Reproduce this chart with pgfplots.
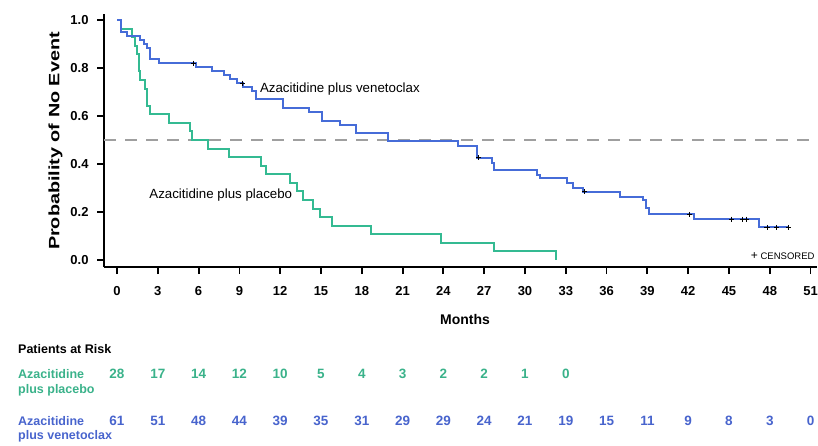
\documentclass[border=0pt]{standalone}
\usepackage{fontspec}
\setmainfont{Liberation Sans}
\usepackage{graphicx}
\usepackage{pgfplots}
\pgfplotsset{compat=1.18}
\definecolor{ven}{RGB}{70,108,216}
\definecolor{pla}{RGB}{52,186,146}
\definecolor{ventext}{RGB}{72,100,205}
\definecolor{platext}{RGB}{58,178,138}

\pgfplotstableread{
m p
0 1.000
0.3 0.951
0.7 0.934
1.7 0.918
1.95 0.902
2.2 0.885
2.4 0.836
3.1 0.820
5.8 0.803
7.0 0.787
7.9 0.770
8.3 0.754
8.8 0.737
9.3 0.720
9.9 0.703
10.2 0.670
12.2 0.635
14.1 0.615
15.1 0.580
16.4 0.562
17.6 0.530
19.9 0.497
25.1 0.476
26.5 0.426
27.6 0.403
27.75 0.375
30.9 0.355
31.1 0.340
33.1 0.320
33.5 0.302
34.3 0.285
37.0 0.264
38.7 0.248
38.9 0.215
39.1 0.190
42.4 0.170
47.2 0.136
49.4 0.136
}\ven

\pgfplotstableread{
m p
0 1.000
0.3 0.964
1.1 0.929
1.3 0.893
1.45 0.857
1.6 0.821
1.65 0.786
1.7 0.750
2.06 0.714
2.2 0.643
2.4 0.607
3.8 0.571
5.4 0.536
5.5 0.500
6.7 0.464
8.2 0.429
10.6 0.393
10.95 0.357
12.7 0.321
13.2 0.286
13.7 0.250
14.4 0.214
14.9 0.179
15.8 0.143
18.7 0.107
23.8 0.071
27.7 0.036
32.3 0.000
}\pla

\begin{document}
\begin{tikzpicture}[x=1pt,y=1pt]
\path[use as bounding box] (0,0) rectangle (818,-445);
\begin{axis}[
  at={(104.08pt,-267.2pt)}, anchor=south west,
  scale only axis, width=713.3pt, height=253.2pt,
  xmin=-0.95, xmax=51.5, ymin=-0.03, ymax=1.025,
  axis lines*=left,
  axis line style={line width=2pt, black},
  tick style={line width=1.8pt, black},
  major tick length=7pt, tick align=outside,
  xtick={0,3,6,9,12,15,18,21,24,27,30,33,36,39,42,45,48,51},
  xticklabels={0,3,6,9,12,15,18,21,24,27,30,33,36,39,42,45,48,51},
  ytick={0,0.2,0.4,0.6,0.8,1.0},
  yticklabels={0.0,0.2,0.4,0.6,0.8,1.0},
  ticklabel style={font=\bfseries\fontsize{13}{13}\selectfont},
  xticklabel style={yshift=-9pt},
  yticklabel style={xshift=-5pt},
  clip=false,
]
\addplot[gray!75, dash pattern=on 12pt off 9pt, line width=1.1pt] coordinates {(-0.95,0.5) (51.5,0.5)};
\addplot[const plot, pla, line width=2pt] table[x=m,y=p] {\pla};
\addplot[const plot, ven, line width=2pt] table[x=m,y=p] {\ven};
\addplot[only marks, mark=+, mark size=2.6pt, black, line width=0.9pt] coordinates {
(5.6,0.820) (9.2,0.737) (26.6,0.426) (34.4,0.285) (42.1,0.190)
(45.2,0.170) (46.0,0.170) (46.3,0.170) (47.8,0.136) (48.5,0.136) (49.4,0.136)};
\node[anchor=west, inner sep=0, font=\fontsize{13.3}{13.3}\selectfont] at (axis cs:10.5,0.7125) {Azacitidine plus venetoclax};
\node[anchor=west, inner sep=0, font=\fontsize{13.3}{13.3}\selectfont] at (axis cs:2.37,0.271) {Azacitidine plus placebo};
\node[anchor=east, inner sep=0, font=\fontsize{9.5}{9.5}\selectfont] at (axis cs:51.3,0.017) {{\fontsize{12}{12}\selectfont +} CENSORED};
\addplot[draw=none, mark=none, nodes near coords, point meta=explicit symbolic,
  nodes near coords style={anchor=center, inner sep=0, text=platext, font=\bfseries\fontsize{13.5}{13.5}\selectfont}]
  coordinates {(0,-0.475)[28] (3,-0.475)[17] (6,-0.475)[14] (9,-0.475)[12] (12,-0.475)[10] (15,-0.475)[5]
  (18,-0.475)[4] (21,-0.475)[3] (24,-0.475)[2] (27,-0.475)[2] (30,-0.475)[1] (33,-0.475)[0]};
\addplot[draw=none, mark=none, nodes near coords, point meta=explicit symbolic,
  nodes near coords style={anchor=center, inner sep=0, text=ventext, font=\bfseries\fontsize{13.5}{13.5}\selectfont}]
  coordinates {(0,-0.671)[61] (3,-0.671)[51] (6,-0.671)[48] (9,-0.671)[44] (12,-0.671)[39] (15,-0.671)[35]
  (18,-0.671)[31] (21,-0.671)[29] (24,-0.671)[29] (27,-0.671)[24] (30,-0.671)[21] (33,-0.671)[19]
  (36,-0.671)[15] (39,-0.671)[11] (42,-0.671)[9] (45,-0.671)[8] (48,-0.671)[3] (51,-0.671)[0]};
\end{axis}
\node[rotate=90, font=\bfseries\fontsize{15}{15}\selectfont] at (55.5,-141) {\scalebox{1.32}[1]{Probability of No Event}};
\node[font=\bfseries\fontsize{14}{14}\selectfont] at (465,-319) {Months};
\node[anchor=west, inner sep=0, font=\bfseries\fontsize{12.5}{12.5}\selectfont] at (18,-349) {Patients at Risk};
\node[anchor=west, inner sep=0, text=platext, font=\bfseries\fontsize{12.5}{12.5}\selectfont] at (18,-374) {Azacitidine};
\node[anchor=west, inner sep=0, text=platext, font=\bfseries\fontsize{12.5}{12.5}\selectfont] at (18,-390) {plus placebo};
\node[anchor=west, inner sep=0, text=ventext, font=\bfseries\fontsize{12.5}{12.5}\selectfont] at (18,-421) {Azacitidine};
\node[anchor=west, inner sep=0, text=ventext, font=\bfseries\fontsize{12.5}{12.5}\selectfont] at (18,-436) {plus venetoclax};
\end{tikzpicture}
\end{document}
